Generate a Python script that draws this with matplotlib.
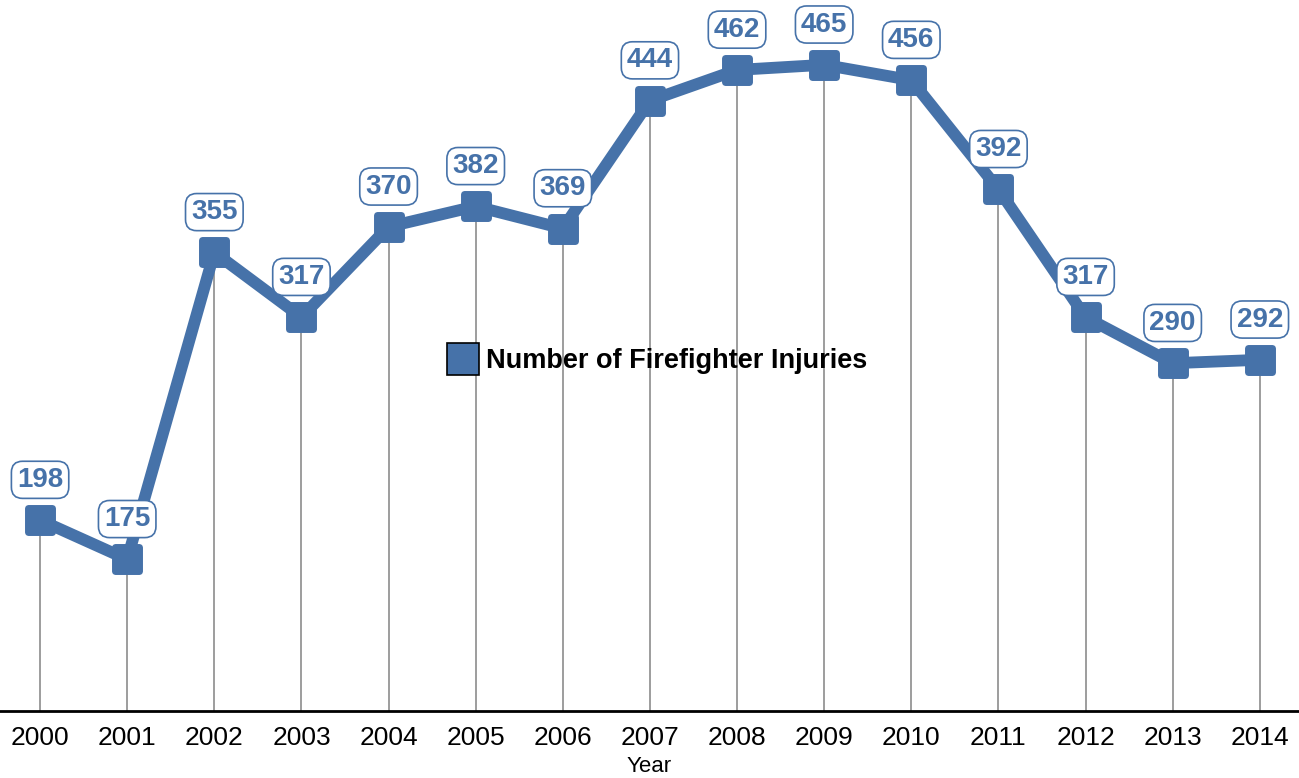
import matplotlib.pyplot as plt
from matplotlib.lines import Line2D
from matplotlib.markers import MarkerStyle

years = [2000, 2001, 2002, 2003, 2004, 2005, 2006, 2007,
         2008, 2009, 2010, 2011, 2012, 2013, 2014]
injuries = [198, 175, 355, 317, 370, 382, 369, 444,
            462, 465, 456, 392, 317, 290, 292]

blue = "#4672a9"
plt.rcParams['font.family'] = ['Liberation Sans', 'DejaVu Sans']

fig = plt.figure(figsize=(12.99, 7.78), dpi=100)
ax = fig.add_axes([0, 0.086, 1, 0.914])

# thin gray drop lines from the axis up to each point
ax.vlines(years, 86, injuries, color="#8c8c8c", linewidth=1.2, zorder=1)

# rounded square markers
rounded_sq = MarkerStyle("s", joinstyle="round")
ax.plot(years, injuries, color=blue, linewidth=8.5, marker=rounded_sq,
        markersize=17, markeredgewidth=5, markeredgecolor=blue,
        solid_joinstyle="round", zorder=3)

for x, y in zip(years, injuries):
    ax.annotate(str(y), (x, y), xytext=(0, 29), textcoords="offset points",
                ha="center", va="center", fontsize=20, fontweight="bold",
                color=blue,
                bbox=dict(boxstyle="round,pad=0.2,rounding_size=0.4",
                          fc="white", ec=blue, lw=1.2))

ax.set_xlim(1999.54, 2014.45)
ax.set_ylim(86, 503)
ax.set_xticks(years)
ax.set_xticklabels([str(y) for y in years], fontsize=19)
ax.tick_params(axis="x", length=0, pad=11)
ax.set_yticks([])
for side in ["left", "right", "top"]:
    ax.spines[side].set_visible(False)
ax.spines["bottom"].set_linewidth(2)
ax.set_xlabel("Year", fontsize=16, labelpad=4)

handle = Line2D([], [], linestyle="none", marker="s", markersize=23,
                markerfacecolor=blue, markeredgecolor="black",
                markeredgewidth=1.2)
ax.legend([handle], ["Number of Firefighter Injuries"], loc="center left",
          bbox_to_anchor=(0.327, 0.492), frameon=False, handlelength=1,
          handletextpad=0.35, prop={"size": 19.5, "weight": "bold"})

fig.savefig("out.png", dpi=100)
